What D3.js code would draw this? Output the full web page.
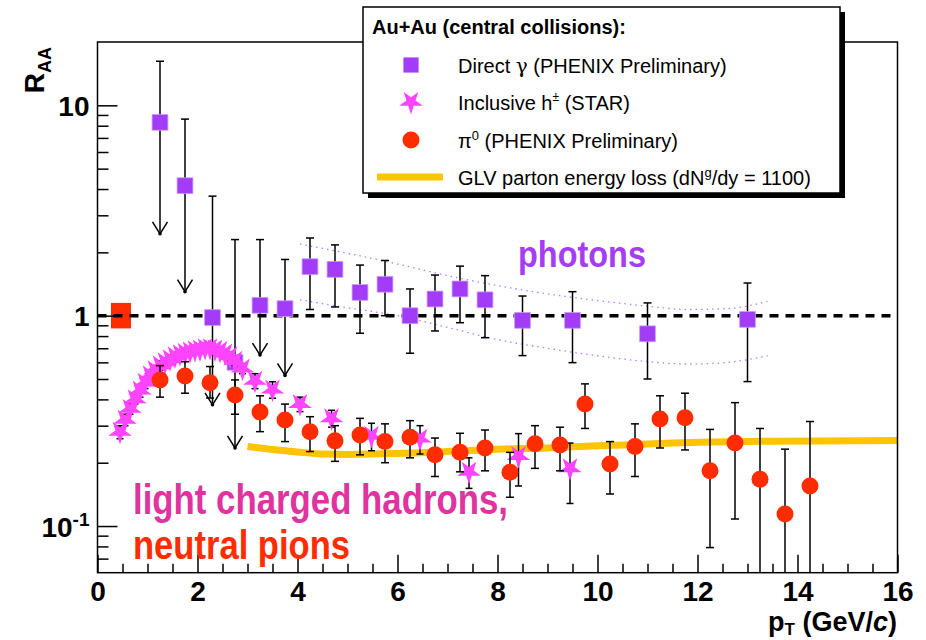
<!DOCTYPE html>
<html>
<head>
<meta charset="utf-8">
<script src="https://cdn.jsdelivr.net/npm/d3@7"></script>
<style>
  body { margin: 0; background: #fff; }
  svg { display: block; font-family: "Liberation Sans", Arial, Helvetica, sans-serif; }
</style>
</head>
<body>
<svg id="chart" width="926" height="640"></svg>
<script>
// direct photons (PHENIX preliminary); first six points are upper limits
const photonPt = [1.25, 1.75, 2.3, 2.75, 3.25, 3.75, 4.25, 4.75, 5.25, 5.75, 6.25, 6.75, 7.25, 7.75, 8.5, 9.5, 11, 13];
const photonR = [8.3, 4.15, 0.98, 0.6, 1.12, 1.08, 1.71, 1.66, 1.29, 1.41, 1.0, 1.2, 1.34, 1.19, 0.95, 0.95, 0.82, 0.96];
const photonHi = [16.2, 8.6, 3.7, 2.3, 2.3, 1.85, 2.34, 2.17, 1.74, 1.83, 1.34, 1.56, 1.72, 1.55, 1.24, 1.3, 1.15, 1.43];
const photonLo = [2.45, 1.3, 0.377, 0.235, 0.65, 0.52, 1.07, 1.1, 0.825, 1.0, 0.663, 0.846, 0.926, 0.786, 0.646, 0.598, 0.5, 0.486];
const photonLimit = [1, 1, 1, 1, 1, 1, 0, 0, 0, 0, 0, 0, 0, 0, 0, 0, 0, 0];

// photon systematic band (dotted curves)
const bandPt = [4.05, 5.0, 6.0, 7.0, 8.0, 9.0, 10.0, 11.0, 11.8, 12.6, 13.4];
const bandHi = [2.19, 1.98, 1.76, 1.55, 1.39, 1.27, 1.18, 1.11, 1.07, 1.08, 1.17];
const bandLo = [1.19, 1.09, 1.0, 0.88, 0.77, 0.7, 0.645, 0.605, 0.589, 0.6, 0.645];

// inclusive charged hadrons (STAR)
const hadronPt = [0.45, 0.55, 0.65, 0.75, 0.85, 0.95, 1.05, 1.15, 1.25, 1.35, 1.45, 1.55, 1.65, 1.75, 1.85, 1.95,
  2.05, 2.15, 2.25, 2.35, 2.45, 2.55, 2.65, 2.75, 2.9, 3.15, 3.5, 4.05, 4.68, 5.48, 6.45, 7.43, 8.42, 9.45];
const hadronR = [0.28, 0.32, 0.36, 0.4, 0.44, 0.48, 0.52, 0.55, 0.58, 0.6, 0.62, 0.64, 0.655, 0.665, 0.675, 0.685,
  0.69, 0.7, 0.7, 0.69, 0.68, 0.66, 0.64, 0.61, 0.56, 0.49, 0.445, 0.38, 0.325, 0.268, 0.26, 0.181, 0.215, 0.188];
const hadronErr = [0.02, 0.02, 0.02, 0.02, 0.03, 0.03, 0.03, 0.03, 0.03, 0.03, 0.03, 0.03, 0.03, 0.03, 0.03, 0.03,
  0.03, 0.03, 0.03, 0.03, 0.03, 0.03, 0.03, 0.03, 0.03, 0.04, 0.04, 0.03, 0.03, 0.04, 0.04, 0.03, 0.06, 0.06];

// neutral pions (PHENIX preliminary)
const pionPt = [1.25, 1.75, 2.25, 2.75, 3.25, 3.75, 4.25, 4.75, 5.25, 5.75, 6.25, 6.75, 7.25, 7.75, 8.25,
  8.75, 9.25, 9.75, 10.25, 10.75, 11.25, 11.75, 12.25, 12.75, 13.25, 13.75, 14.25];
const pionR = [0.495, 0.517, 0.48, 0.42, 0.348, 0.319, 0.281, 0.254, 0.271, 0.252, 0.264, 0.218, 0.224, 0.235, 0.18,
  0.246, 0.243, 0.38, 0.197, 0.239, 0.323, 0.327, 0.183, 0.248, 0.167, 0.114, 0.155];
const pionHi = [0.579, 0.604, 0.573, 0.495, 0.416, 0.38, 0.331, 0.3, 0.325, 0.306, 0.317, 0.262, 0.276, 0.286, 0.224,
  0.3, 0.295, 0.474, 0.252, 0.306, 0.416, 0.428, 0.288, 0.386, 0.291, 0.232, 0.314];
const pionLo = [0.41, 0.428, 0.406, 0.34, 0.281, 0.252, 0.226, 0.203, 0.218, 0.2, 0.211, 0.172, 0.181, 0.183, 0.137,
  0.188, 0.183, 0.291, 0.142, 0.172, 0.235, 0.23, 0.079, 0.108, 0.01, 0.01, 0.01];

// GLV parton energy loss curve
const glvPt = [3.0, 3.5, 4.0, 4.5, 5.0, 6.0, 7.0, 8.0, 9.0, 9.5, 10.5, 11.5, 13.5, 16.0];
const glvR = [0.239, 0.231, 0.225, 0.22, 0.219, 0.221, 0.226, 0.232, 0.235, 0.238, 0.243, 0.248, 0.253, 0.255];

// normalisation uncertainty box at R_AA = 1
const normPt = 0.47;
const normRange = [0.87, 1.15];

const xTicks = [0, 2, 4, 6, 8, 10, 12, 14, 16];
const yTicks = [0.1, 1, 10];

const purple = "#a23cf6";
const pink = "#ff44ff";
const red = "#ff2c00";
const gold = "#ffc400";

const svg = d3.select("#chart");
const x = d3.scaleLinear().domain([0, 16]).range([97.5, 897.5]);
const y = d3.scaleLog().domain([0.06, 20]).range([572.7, 42]);
const yc = (v) => y(Math.max(0.06, Math.min(20, v)));

const plot = svg.append("g");

// photon band
const bandLine = (vals) => d3.line().x((d, i) => x(bandPt[i])).y((d) => y(d)).curve(d3.curveMonotoneX)(vals);
[bandHi, bandLo].forEach((vals) => {
  plot.append("path")
    .attr("d", bandLine(vals))
    .attr("fill", "none")
    .attr("stroke", "#b77cff")
    .attr("stroke-width", 1.3)
    .attr("stroke-dasharray", "1.5,4");
});

// normalisation box and R=1 line
plot.append("rect")
  .attr("x", x(normPt) - 10)
  .attr("y", y(normRange[1]))
  .attr("width", 20)
  .attr("height", y(normRange[0]) - y(normRange[1]))
  .attr("fill", red);

plot.append("line")
  .attr("x1", x(0)).attr("x2", x(16))
  .attr("y1", y(1)).attr("y2", y(1))
  .attr("stroke", "#000")
  .attr("stroke-width", 3.5)
  .attr("stroke-dasharray", "9,7");

// GLV curve
plot.append("path")
  .attr("d", d3.line().x((d, i) => x(glvPt[i])).y((d) => y(d)).curve(d3.curveMonotoneX)(glvR))
  .attr("fill", "none")
  .attr("stroke", gold)
  .attr("stroke-width", 7);

function errorBars(g, pts, lo, hi, cap, limits) {
  pts.forEach((p, i) => {
    const cx = x(p);
    const y1 = yc(hi[i]), y2 = yc(lo[i]);
    g.append("line").attr("x1", cx).attr("x2", cx).attr("y1", y1).attr("y2", y2)
      .attr("stroke", "#000").attr("stroke-width", 1.5);
    g.append("line").attr("x1", cx - cap).attr("x2", cx + cap).attr("y1", y1).attr("y2", y1)
      .attr("stroke", "#000").attr("stroke-width", 1.5);
    if (limits && limits[i]) {
      g.append("path")
        .attr("d", `M${cx - 7.5},${y2 - 12}L${cx},${y2}L${cx + 7.5},${y2 - 12}`)
        .attr("fill", "none").attr("stroke", "#000").attr("stroke-width", 1.5);
      g.append("circle").attr("cx", cx).attr("cy", y2).attr("r", 1.8).attr("fill", "#000");
    } else if (y2 < 572) {
      g.append("line").attr("x1", cx - cap).attr("x2", cx + cap).attr("y1", y2).attr("y2", y2)
        .attr("stroke", "#000").attr("stroke-width", 1.5);
    }
  });
}

// photons
const gPhot = plot.append("g");
errorBars(gPhot, photonPt, photonLo, photonHi, 4, photonLimit);
gPhot.selectAll("path.sq")
  .data(photonR)
  .join("path")
  .attr("class", "sq")
  .attr("transform", (d, i) => `translate(${x(photonPt[i])},${y(d)})`)
  .attr("d", d3.symbol(d3.symbolSquare, 250))
  .attr("fill", purple)
  .attr("stroke", "#c89cff")
  .attr("stroke-width", 0.8);

// hadrons
const gHad = plot.append("g");
errorBars(gHad, hadronPt, hadronR.map((v, i) => v - hadronErr[i]), hadronR.map((v, i) => v + hadronErr[i]), 3.5, null);
gHad.selectAll("path.st")
  .data(hadronR)
  .join("path")
  .attr("class", "st")
  .attr("transform", (d, i) => `translate(${x(hadronPt[i])},${y(d)}) rotate(180)`)
  .attr("d", d3.symbol(d3.symbolStar, 175))
  .attr("fill", pink);

// pions
const gPi = plot.append("g");
errorBars(gPi, pionPt, pionLo, pionHi, 4, null);
gPi.selectAll("circle.pi")
  .data(pionR)
  .join("circle")
  .attr("class", "pi")
  .attr("cx", (d, i) => x(pionPt[i]))
  .attr("cy", (d) => y(d))
  .attr("r", 8.5)
  .attr("fill", red);

// frame
svg.append("rect")
  .attr("x", x(0)).attr("y", y(20))
  .attr("width", x(16) - x(0)).attr("height", y(0.06) - y(20))
  .attr("fill", "none").attr("stroke", "#000").attr("stroke-width", 1.5);

// x axis
const xMinor = d3.range(0.5, 16, 0.5).filter((v) => v % 2 !== 0);
svg.append("g")
  .attr("transform", `translate(0,${y(0.06)})`)
  .call(d3.axisBottom(x).tickValues(xMinor).tickSize(-9).tickFormat("").tickSizeOuter(0))
  .call((g) => g.select(".domain").remove())
  .call((g) => g.selectAll("line").attr("stroke-width", 1.5));

svg.append("g")
  .attr("transform", `translate(0,${y(0.06)})`)
  .call(d3.axisBottom(x).tickValues(xTicks).tickSize(-18).tickPadding(8).tickSizeOuter(0))
  .call((g) => g.select(".domain").remove())
  .call((g) => g.selectAll("line").attr("stroke-width", 1.5))
  .call((g) => g.selectAll("text")
    .attr("font-size", 28).attr("font-weight", "bold")
    .attr("font-family", "Liberation Sans, Arial, sans-serif").attr("fill", "#000"));

// y axis
const yMinor = [];
[0.01, 0.1, 1].forEach((dec) => d3.range(2, 10).forEach((m) => {
  const v = dec * m;
  if (v > 0.06 && v < 20) yMinor.push(v);
}));
svg.append("g")
  .attr("transform", `translate(${x(0)},0)`)
  .call(d3.axisLeft(y).tickValues(yMinor).tickSize(-11).tickFormat("").tickSizeOuter(0))
  .call((g) => g.select(".domain").remove())
  .call((g) => g.selectAll("line").attr("stroke-width", 1.5));

const yAx = svg.append("g")
  .attr("transform", `translate(${x(0)},0)`)
  .call(d3.axisLeft(y).tickValues(yTicks).tickSize(-20).tickFormat("").tickSizeOuter(0))
  .call((g) => g.select(".domain").remove())
  .call((g) => g.selectAll("line").attr("stroke-width", 1.5));

yAx.selectAll(".tick").each(function (d) {
  const t = d3.select(this).append("text")
    .attr("x", -8)
    .attr("dy", "0.36em")
    .attr("text-anchor", "end")
    .attr("font-size", 28)
    .attr("font-weight", "bold")
    .attr("fill", "#000");
  if (d === 0.1) {
    t.append("tspan").text("10");
    t.append("tspan").attr("font-size", 19).attr("dy", "-0.55em").text("-1");
  } else {
    t.text(d3.format("d")(d));
  }
});

// axis titles
const xt = svg.append("text")
  .attr("x", 897)
  .attr("y", 631)
  .attr("text-anchor", "end")
  .attr("font-size", 27)
  .attr("font-weight", "bold");
xt.append("tspan").text("p");
xt.append("tspan").attr("font-size", 17).attr("dy", 4).text("T");
xt.append("tspan").attr("dy", -4).text(" (GeV/");
xt.append("tspan").attr("font-style", "italic").text("c");
xt.append("tspan").text(")");

const yt = svg.append("text")
  .attr("transform", "translate(44,47) rotate(-90)")
  .attr("text-anchor", "end")
  .attr("font-size", 28)
  .attr("font-weight", "bold");
yt.append("tspan").text("R");
yt.append("tspan").attr("font-size", 18).attr("dy", 7).text("AA");

// annotations (the original lettering is condensed)
svg.append("text").attr("x", 518).attr("y", 267)
  .attr("font-size", 36).attr("font-weight", "bold").attr("fill", "#a43df5")
  .attr("textLength", 128).attr("lengthAdjust", "spacingAndGlyphs")
  .text("photons");
svg.append("text").attr("x", 133).attr("y", 514)
  .attr("font-size", 42).attr("font-weight", "bold").attr("fill", "#e0339f")
  .attr("textLength", 375).attr("lengthAdjust", "spacingAndGlyphs")
  .text("light charged hadrons,");
svg.append("text").attr("x", 133).attr("y", 559)
  .attr("font-size", 41).attr("font-weight", "bold").attr("fill", red)
  .attr("textLength", 217).attr("lengthAdjust", "spacingAndGlyphs")
  .text("neutral pions");

// legend
const leg = svg.append("g");
leg.append("rect").attr("x", 368).attr("y", 12).attr("width", 477).attr("height", 186).attr("fill", "#000");
leg.append("rect").attr("x", 363).attr("y", 7).attr("width", 477).attr("height", 186)
  .attr("fill", "#fff").attr("stroke", "#000").attr("stroke-width", 1.5);
leg.append("text").attr("x", 372).attr("y", 34).attr("font-size", 20).attr("font-weight", "bold")
  .text("Au+Au (central collisions):");

const entryY = [65, 102, 140, 177];
leg.append("path").attr("transform", `translate(411,${entryY[0]})`)
  .attr("d", d3.symbol(d3.symbolSquare, 230)).attr("fill", purple);
leg.append("path").attr("transform", `translate(411,${entryY[1]}) rotate(180)`)
  .attr("d", d3.symbol(d3.symbolStar, 175)).attr("fill", pink);
leg.append("circle").attr("cx", 411).attr("cy", entryY[2]).attr("r", 8.5).attr("fill", red);
leg.append("line").attr("x1", 377).attr("x2", 443).attr("y1", entryY[3]).attr("y2", entryY[3])
  .attr("stroke", gold).attr("stroke-width", 7);

const entry = (i) => leg.append("text").attr("x", 458).attr("y", entryY[i] + 8).attr("font-size", 20);
let e = entry(0);
e.append("tspan").text("Direct ");
e.append("tspan").attr("font-family", "DejaVu Serif, serif").text("γ");
e.append("tspan").text(" (PHENIX Preliminary)");
e = entry(1);
e.append("tspan").text("Inclusive h");
e.append("tspan").attr("font-size", 12).attr("dy", -9).text("±");
e.append("tspan").attr("dy", 9).text(" (STAR)");
e = entry(2);
e.append("tspan").text("π");
e.append("tspan").attr("font-size", 13).attr("dy", -8).text("0");
e.append("tspan").attr("dy", 8).text(" (PHENIX Preliminary)");
e = entry(3);
e.append("tspan").text("GLV parton energy loss (dN");
e.append("tspan").attr("font-size", 13).attr("dy", -8).text("g");
e.append("tspan").attr("dy", 8).text("/dy = 1100)");
</script>
</body>
</html>
